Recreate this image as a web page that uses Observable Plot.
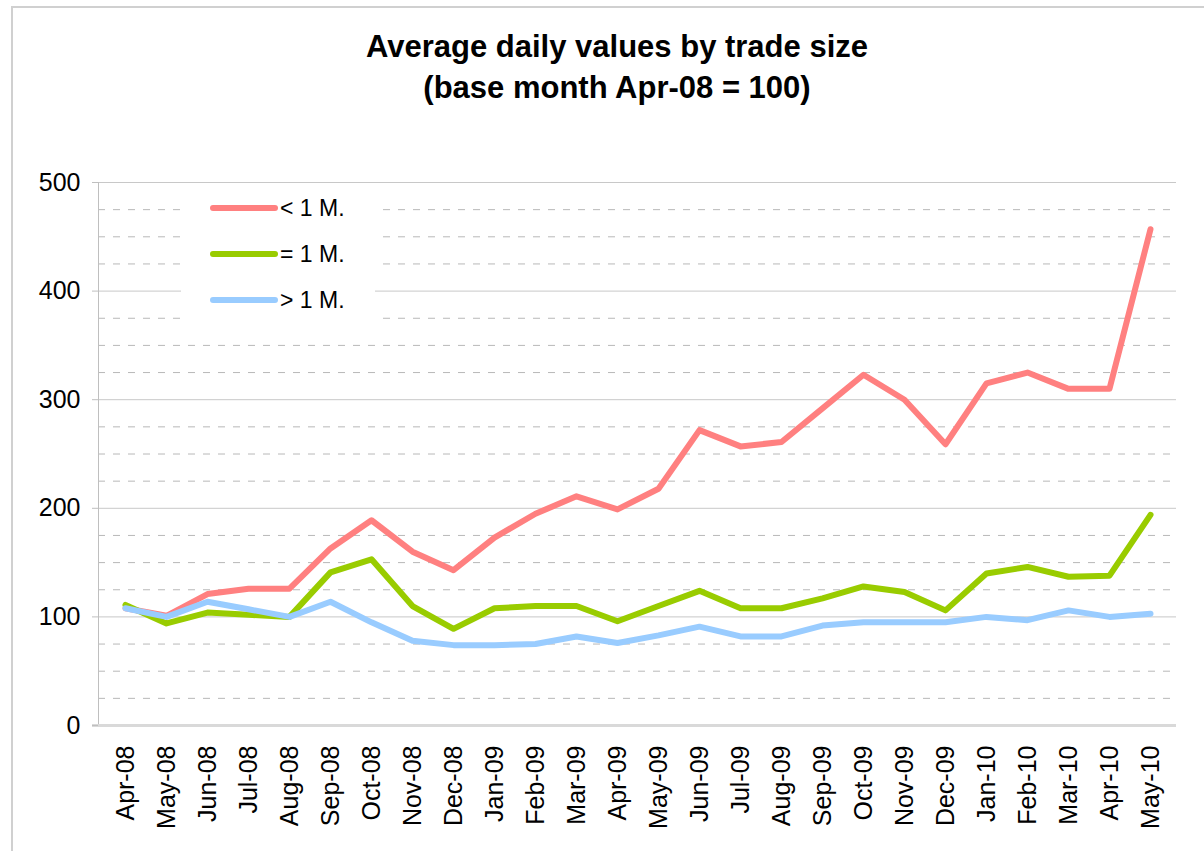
<!DOCTYPE html>
<html>
<head>
<meta charset="utf-8">
<script src="https://cdn.jsdelivr.net/npm/d3@7"></script>
<script src="https://cdn.jsdelivr.net/npm/@observablehq/plot@0.6"></script>
<style>
  html, body { margin: 0; padding: 0; background: #fff; }
  #page { position: relative; width: 1204px; height: 851px; overflow: hidden; font-family: "Liberation Sans", Arial, sans-serif; }
  #frame { position: absolute; left: 11px; top: 6px; width: 1300px; height: 1000px; border-left: 2px solid #d0d0d0; border-top: 2px solid #d0d0d0; }
  #title { position: absolute; left: 15px; top: 26px; width: 1204px; text-align: center; font-weight: bold; font-size: 31px; line-height: 41px; color: #000; }
  #chart { position: absolute; left: 0; top: 150px; }
  #legend { position: absolute; left: 181px; top: 184px; width: 194px; height: 146px; background: #fff; }
  .row { position: absolute; left: 0; height: 30px; width: 194px; }
  .row svg { position: absolute; left: 28px; top: 0; }
  .row span { position: absolute; left: 99px; top: 1px; font-size: 23px; line-height: 26px; color: #000; }
</style>
</head>
<body>
<div id="page">
  <div id="frame"></div>
  <div id="title">Average daily values by trade size<br>(base month Apr-08 = 100)</div>
  <div id="chart"></div>
  <div id="legend"></div>
</div>
<script>
const months = ["Apr-08","May-08","Jun-08","Jul-08","Aug-08","Sep-08","Oct-08","Nov-08","Dec-08",
  "Jan-09","Feb-09","Mar-09","Apr-09","May-09","Jun-09","Jul-09","Aug-09","Sep-09","Oct-09","Nov-09","Dec-09",
  "Jan-10","Feb-10","Mar-10","Apr-10","May-10"];
const seriesNames = ["< 1 M.", "= 1 M.", "> 1 M."];
const seriesColors = ["#FF8080", "#99CC00", "#99CCFF"];
const lessThan1M    = [108,101,121,126,126,163,189,160,143,173,195,211,199,218,272,257,261,292,323,300,259,315,325,310,310,457];
const equal1M       = [111, 94,104,102,100,141,153,110, 89,108,110,110, 96,110,124,108,108,117,128,123,106,140,146,137,138,194];
const greaterThan1M = [108,100,114,107,100,114, 95, 78, 74, 74, 75, 82, 76, 83, 91, 82, 82, 92, 95, 95, 95,100, 97,106,100,103];
const yTicks = [0,100,200,300,400,500];
const yMinor = d3.range(25, 500, 25).filter(v => v % 100 !== 0);

const seriesValues = [lessThan1M, equal1M, greaterThan1M];
const data = [];
seriesNames.forEach((s, k) => months.forEach((m, i) => data.push({month: m, value: seriesValues[k][i], series: s})));

const chart = Plot.plot({
  width: 1204,
  height: 701,
  marginTop: 32,
  marginBottom: 126,
  marginLeft: 98,
  marginRight: 28,
  style: {fontFamily: "'Liberation Sans', Arial, sans-serif", fontSize: "25px", color: "#000", background: "transparent"},
  x: {type: "point", domain: months, padding: 0.5, label: null},
  y: {domain: [0, 500], label: null},
  color: {domain: seriesNames, range: seriesColors},
  marks: [
    Plot.ruleY(yMinor, {stroke: "#b8b8b8", strokeDasharray: "7,8"}),
    Plot.ruleY(yTicks.filter(v => v > 0), {stroke: "#c8c8c8"}),
    Plot.frame({anchor: "left", stroke: "#bfbfbf"}),
    Plot.ruleY([0], {stroke: "#d9d9d9", strokeWidth: 3, insetLeft: -6}),
    Plot.lineY(data, {x: "month", y: "value", z: "series", stroke: "series", strokeWidth: 6, strokeLinejoin: "round", strokeLinecap: "round"}),
    Plot.axisY({ticks: yTicks, tickSize: 6, tickPadding: 12, stroke: "#bfbfbf", label: null, fontSize: 25}),
    Plot.axisX({tickSize: 0, tickRotate: -90, tickPadding: 20, label: null, fontSize: 25})
  ]
});
document.getElementById("chart").appendChild(chart);

const legend = document.getElementById("legend");
seriesNames.forEach((s, k) => {
  const row = document.createElement("div");
  row.className = "row";
  row.style.top = (10 + k * 46) + "px";
  row.innerHTML = `<svg width="70" height="30"><line x1="4" x2="66" y1="14" y2="14" stroke="${seriesColors[k]}" stroke-width="6" stroke-linecap="round"/></svg><span></span>`;
  row.querySelector("span").textContent = s;
  legend.appendChild(row);
});
</script>
</body>
</html>
